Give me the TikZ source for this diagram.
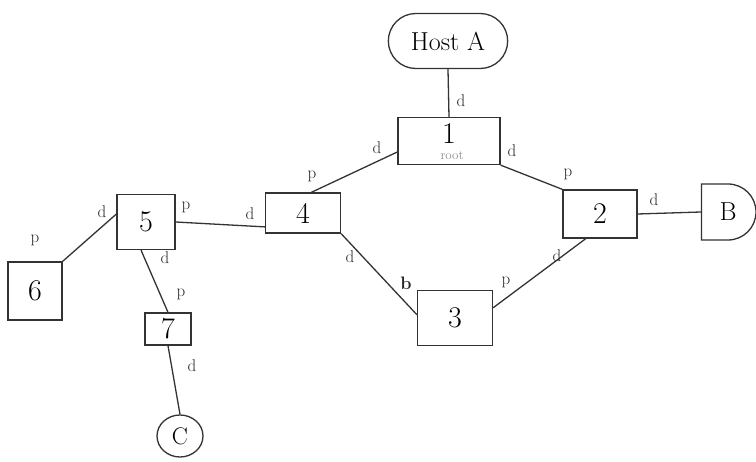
\documentclass[tikz,border=0pt]{standalone}
\usetikzlibrary{shapes.geometric,shapes.misc}
\begin{document}
\begin{tikzpicture}[x=1pt,y=-1pt,
  ink/.style={draw=black!80,line width=1.3pt},
  box/.style={ink,rectangle,inner sep=0pt,font=\fontsize{30}{30}\selectfont},
  lbl/.style={font=\fontsize{17}{17}\selectfont,text=black!85,inner sep=1pt},
  link/.style={ink}]
\useasboundingbox (0,0) rectangle (756,462);
% nodes
\node[ink,rounded rectangle,minimum width=126pt,minimum height=55pt,font=\fontsize{26}{26}\selectfont] (h) at (448,41) {Host A};
\node[box,minimum width=102pt,minimum height=47pt] (n1) at (449,141) {};
\node[font=\fontsize{30}{30}\selectfont,inner sep=0pt] (t1) at (449,134) {1};
\node[font=\fontsize{13}{13}\selectfont,text=black!45,inner sep=0pt] (r1) at (452,156) {root};
\node[box,minimum width=74pt,minimum height=48pt] (n2) at (600,214) {2};
\node[ink,rounded rectangle,rounded rectangle left arc=none,minimum width=56pt,minimum height=56pt,font=\fontsize{26}{26}\selectfont] (b) at (728,212) {B};
\node[box,minimum width=75pt,minimum height=40pt] (n4) at (303,213) {4};
\node[box,minimum width=58pt,minimum height=55pt] (n5) at (146,222) {5};
\node[box,minimum width=54pt,minimum height=58pt] (n6) at (35,291) {6};
\node[box,minimum width=46pt,minimum height=32pt] (n7) at (168,329) {7};
\node[box,minimum width=75pt,minimum height=55pt] (n3) at (455,318) {3};
\node[ink,ellipse,minimum width=46pt,minimum height=42pt,inner sep=0pt,font=\fontsize{24}{24}\selectfont] (c) at (180,436) {C};
% links
\draw[link] (h.south) -- (n1.north);
\draw[link] (n1.south east) -- (n2.north west);
\draw[link] (n1.-168) -- (n4.68);
\draw[link] (n2.east) -- (b.west);
\draw[link] (n5.east) -- (n4.-160);
\draw[link] (n5.165) -- (n6.north east);
\draw[link] (n5.-100) -- (n7.north);
\draw[link] (n7.south) -- (c.north);
\draw[link] (n4.south east) -- (n3.175);
\draw[link] (n2.-120) -- (n3.15);
% labels
\node[lbl] (l1) at (461,101) {d};
\node[lbl] (l2) at (512,151) {d};
\node[lbl] (l3) at (568,174) {p};
\node[lbl] (l4) at (377,148) {d};
\node[lbl] (l5) at (312,176) {p};
\node[lbl] (l6) at (654,200) {d};
\node[lbl] (l7) at (186,207) {p};
\node[lbl] (l8) at (250,214) {d};
\node[lbl] (l9) at (102,212) {d};
\node[lbl] (l10) at (35,240) {p};
\node[lbl] (l11) at (165,258) {d};
\node[lbl] (l12) at (181,294) {p};
\node[lbl] (l13) at (192,366) {d};
\node[lbl] (l14) at (350,257) {d};
\node[lbl,font=\bfseries\fontsize{18}{18}\selectfont] (l15) at (406,283) {b};
\node[lbl] (l16) at (557,256) {d};
\node[lbl] (l17) at (506,282) {p};
\end{tikzpicture}
\end{document}
